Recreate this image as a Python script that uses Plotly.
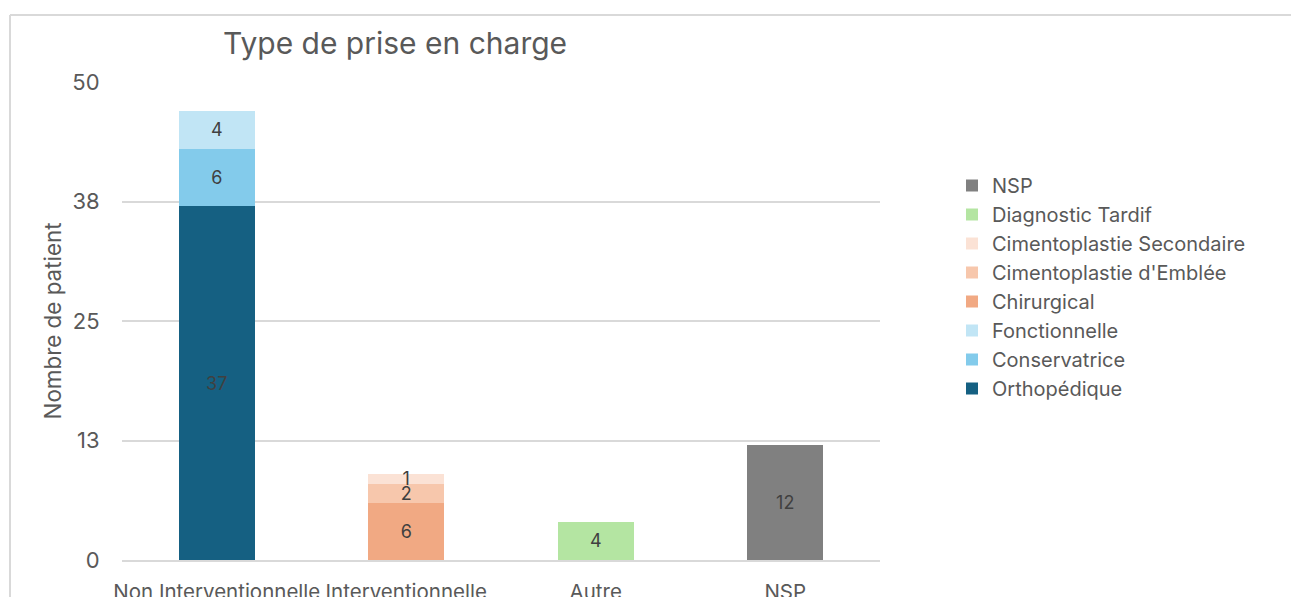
import plotly.graph_objects as go

categories = ["Non Interventionnelle", "Interventionnelle", "Autre", "NSP"]

series_names = ["Orthopédique", "Conservatrice", "Fonctionnelle", "Chirurgical",
                "Cimentoplastie d'Emblée", "Cimentoplastie Secondaire",
                "Diagnostic Tardif", "NSP"]
orthopedique = [37, None, None, None]
conservatrice = [6, None, None, None]
fonctionnelle = [4, None, None, None]
chirurgical = [None, 6, None, None]
ciment_emblee = [None, 2, None, None]
ciment_secondaire = [None, 1, None, None]
diagnostic_tardif = [None, None, 4, None]
nsp = [None, None, None, 12]
series_values = [orthopedique, conservatrice, fonctionnelle, chirurgical,
                 ciment_emblee, ciment_secondaire, diagnostic_tardif, nsp]
colors = ["#156082", "#83CBEB", "#C1E5F5", "#F1A983",
          "#F7C7AC", "#FBE2D5", "#B4E5A2", "#808080"]

y_tickvals = [0, 12.5, 25, 37.5, 50]
y_ticktext = ["0", "13", "25", "38", "50"]

FONT = "Inter, Liberation Sans, Arial, sans-serif"

fig = go.Figure()
for name, vals, col in zip(series_names, series_values, colors):
    fig.add_trace(go.Bar(
        x=categories, y=vals, name=name, marker=dict(color=col, line=dict(width=0)),
        text=[str(v) if v is not None else "" for v in vals],
        textposition="inside", insidetextanchor="middle", textangle=0,
        textfont=dict(family=FONT, size=18, color="#404040"),
    ))

# pixel helpers for plot area (x 122..880, y 82..560)
L, R, T, B = 122, 880, 82, 560
def px(xp): return (xp - L) / (R - L)
def py(yp): return (B - yp) / (B - T)

fig.update_layout(
    barmode="stack", bargap=0.6,
    width=1291, height=597,
    margin=dict(l=L, r=1291 - R, t=T, b=597 - B),
    paper_bgcolor="white", plot_bgcolor="white",
    uniformtext=dict(minsize=18, mode="show"),
    title=dict(text="Type de prise en charge", x=395 / 1291, xanchor="center",
               y=1 - 43 / 597, yanchor="middle",
               font=dict(family=FONT, size=30, color="#595959")),
    legend=dict(traceorder="reversed", x=px(952), xanchor="left", y=py(166), yanchor="top",
                font=dict(family=FONT, size=20, color="#595959"),
                itemwidth=30, tracegroupgap=0, bgcolor="rgba(0,0,0,0)"),
    showlegend=True,
    shapes=[
        dict(type="line", xref="paper", yref="paper", x0=px(10), x1=px(1300), y0=py(15), y1=py(15),
             line=dict(color="#d9d9d9", width=2)),
        dict(type="line", xref="paper", yref="paper", x0=px(10), x1=px(10), y0=py(15), y1=py(610),
             line=dict(color="#d9d9d9", width=2)),
    ],
)
fig.update_yaxes(range=[0, 50], tickvals=y_tickvals, ticktext=y_ticktext, automargin=False,
                 showgrid=True, gridcolor="#d9d9d9", gridwidth=2, zeroline=False,
                 ticks="outside", ticklen=17, tickcolor="rgba(0,0,0,0)",
                 tickfont=dict(family=FONT, size=22, color="#595959"),
                 title=dict(text="Nombre de patient", standoff=4,
                            font=dict(family=FONT, size=22.4, color="#595959")))
fig.update_xaxes(showline=True, linecolor="#d9d9d9", linewidth=2, automargin=False,
                 ticks="outside", ticklen=12, tickcolor="rgba(0,0,0,0)",
                 tickfont=dict(family=FONT, size=20.5, color="#595959"))

fig.write_html("out.html", config={"displayModeBar": False},
               post_script="document.body.style.margin='0';document.body.style.overflow='hidden';")
